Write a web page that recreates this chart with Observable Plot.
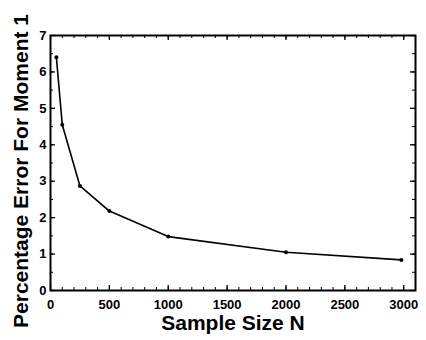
<!DOCTYPE html>
<html><head><meta charset="utf-8">
<script src="https://cdn.jsdelivr.net/npm/d3@7"></script>
<script src="https://cdn.jsdelivr.net/npm/@observablehq/plot@0.6"></script>
<style>
body{margin:0;background:#fff;}
svg{font-family:"Liberation Sans",Arial,sans-serif;}
</style></head>
<body><div id="chart"></div>
<script>
const sampleSize = [50, 100, 250, 500, 1000, 2000, 2980];
const pctError = [6.4, 4.55, 2.87, 2.18, 1.48, 1.05, 0.84];
const xMajorTicks = [0, 500, 1000, 1500, 2000, 2500, 3000];
const xMinorTicks = d3.range(0, 3101, 100);
const yMajorTicks = [0, 1, 2, 3, 4, 5, 6, 7];
const yMinorTicks = d3.range(0, 7.01, 0.5);
const xTitle = "Sample Size N";
const yTitle = "Percentage Error For Moment 1";

const W = 426, H = 340, mt = 35, mb = 50, ml = 50, mr = 11;
const ih = H - mt - mb, iw = W - ml - mr;
const data = sampleSize.map((n, i) => ({n, e: pctError[i]}));

const chart = Plot.plot({
  width: W, height: H,
  marginTop: mt, marginBottom: mb, marginLeft: ml, marginRight: mr,
  style: {fontFamily: "'Liberation Sans', Arial, sans-serif"},
  x: {domain: [0, 3100]},
  y: {domain: [0, 7]},
  marks: [
    Plot.tickX(xMinorTicks, {x: d => d, insetTop: ih - 3, stroke: "black", strokeWidth: 1}),
    Plot.tickX(xMinorTicks, {x: d => d, insetBottom: ih - 3, stroke: "black", strokeWidth: 1}),
    Plot.tickX(xMajorTicks, {x: d => d, insetTop: ih - 5, stroke: "black", strokeWidth: 1.3}),
    Plot.tickX(xMajorTicks, {x: d => d, insetBottom: ih - 5, stroke: "black", strokeWidth: 1.3}),
    Plot.tickY(yMinorTicks, {y: d => d, insetRight: iw - 3, stroke: "black", strokeWidth: 1}),
    Plot.tickY(yMinorTicks, {y: d => d, insetLeft: iw - 3, stroke: "black", strokeWidth: 1}),
    Plot.tickY(yMajorTicks, {y: d => d, insetRight: iw - 5, stroke: "black", strokeWidth: 1.3}),
    Plot.tickY(yMajorTicks, {y: d => d, insetLeft: iw - 5, stroke: "black", strokeWidth: 1.3}),
    Plot.frame({stroke: "black", strokeWidth: 2}),
    Plot.axisX({ticks: xMajorTicks, tickFormat: d3.format("d"), tickSize: 0, tickPadding: 9,
      fontSize: 13, fontWeight: "bold", label: null}),
    Plot.axisY({ticks: yMajorTicks, tickFormat: d3.format("d"), tickSize: 0, tickPadding: 4,
      fontSize: 13, fontWeight: "bold", label: null}),
    Plot.text([xTitle], {text: d => d, frameAnchor: "bottom", textAnchor: "middle", lineAnchor: "middle", dy: 33,
      fontSize: 21, fontWeight: "bold", fill: "black"}),
    Plot.text([yTitle], {text: d => d, frameAnchor: "left", textAnchor: "middle", lineAnchor: "middle", rotate: -90,
      dx: -29, dy: 8, fontSize: 21, fontWeight: "bold", fill: "black"}),
    Plot.line(data, {x: "n", y: "e", stroke: "black", strokeWidth: 1.6}),
    Plot.dot(data, {x: "n", y: "e", r: 2, fill: "black"})
  ]
});
document.getElementById("chart").appendChild(chart);
</script></body></html>
